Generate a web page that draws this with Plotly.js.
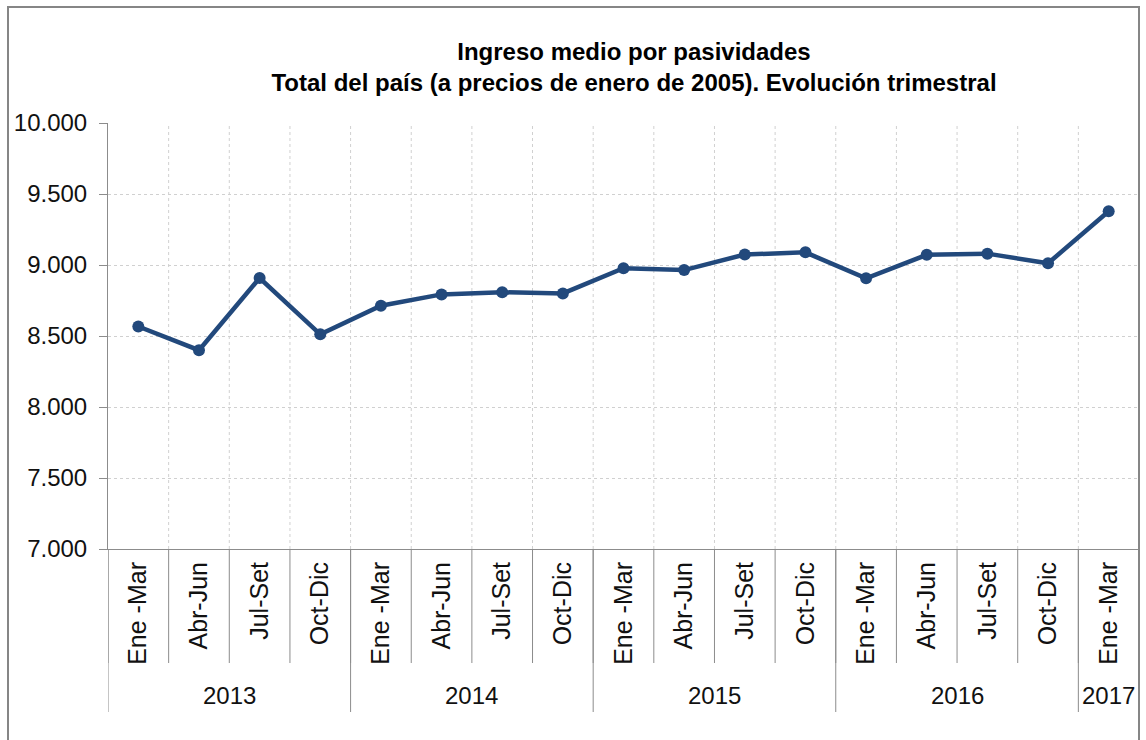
<!DOCTYPE html>
<html><head><meta charset="utf-8">
<script src="https://cdn.plot.ly/plotly-3.0.1.min.js"></script>
<style>body{margin:0;background:#fff}#chart{width:1146px;height:740px}</style>
</head><body><div id="chart"></div>
<script>
const quarters = ["Ene -Mar","Abr-Jun","Jul-Set","Oct-Dic","Ene -Mar","Abr-Jun","Jul-Set","Oct-Dic","Ene -Mar","Abr-Jun","Jul-Set","Oct-Dic","Ene -Mar","Abr-Jun","Jul-Set","Oct-Dic","Ene -Mar"];
const years = ["2013","2013","2013","2013","2014","2014","2014","2014","2015","2015","2015","2015","2016","2016","2016","2016","2017"];
const values = [8567, 8400, 8908, 8512, 8713, 8793, 8808, 8800, 8977, 8964, 9074, 9089, 8906, 9072, 9080, 9012, 9378];
const yTicks = [7000, 7500, 8000, 8500, 9000, 9500, 10000];

const W = 1146, H = 740;
const M = {l: 108, r: 7, t: 123, b: 191};
const PW = W - M.l - M.r, PH = H - M.t - M.b;
const FONT = "Liberation Sans, Arial, sans-serif";
const sepColor = "#8c8c8c";

const idx = quarters.map((_, i) => i);
const groups = [];
years.forEach((y, i) => {
  const g = groups[groups.length - 1];
  if (!g || g.year !== y) groups.push({year: y, start: i, end: i});
  else g.end = i;
});

const catDepth = -(663 - 549) / PH;
const yearDepth = -(712 - 549) / PH;
const shapes = [];
for (let i = 0; i < quarters.length - 1; i++) {
  shapes.push({type: "line", xref: "x", yref: "paper", x0: i + 0.5, x1: i + 0.5, y0: 0, y1: 1,
    line: {color: "#d0d0d0", width: 1, dash: "3px,3px"}, layer: "below"});
}
for (let i = 0; i <= quarters.length; i++) {
  shapes.push({type: "line", xref: "x", yref: "paper", x0: i - 0.5, x1: i - 0.5, y0: 0, y1: catDepth,
    line: {color: sepColor, width: 1}});
}
groups.forEach(g => {
  shapes.push({type: "line", xref: "x", yref: "paper", x0: g.start - 0.5, x1: g.start - 0.5, y0: 0, y1: yearDepth,
    line: {color: sepColor, width: 1}});
});
const last = groups[groups.length - 1];
shapes.push({type: "line", xref: "x", yref: "paper", x0: last.end + 0.5, x1: last.end + 0.5, y0: 0, y1: yearDepth,
  line: {color: sepColor, width: 1}});
// outer chart frame
shapes.push({type: "rect", xref: "paper", yref: "paper",
  x0: (8 - M.l) / PW, x1: 1, y0: -(M.b + 20) / PH, y1: 1 + (M.t - 7) / PH,
  line: {color: "#868686", width: 2}, fillcolor: "rgba(0,0,0,0)"});

const annotations = groups.map(g => ({
  x: (g.start + g.end) / 2, xref: "x", y: -(695 - 549) / PH, yref: "paper",
  text: g.year, showarrow: false, xanchor: "center", yanchor: "middle",
  font: {family: FONT, size: 24, color: "#111"}
}));

const trace = {
  x: idx, y: values, type: "scatter", mode: "lines+markers",
  line: {color: "#22497c", width: 4.5},
  marker: {color: "#22497c", size: 12},
  cliponaxis: false, hoverinfo: "y"
};

const layout = {
  width: W, height: H, margin: M,
  paper_bgcolor: "#fff", plot_bgcolor: "#fff",
  separators: ",.",
  showlegend: false,
  font: {family: FONT, color: "#111"},
  title: {
    text: "Ingreso medio por pasividades<br>Total del país (a precios de enero de 2005). Evolución trimestral",
    font: {family: FONT, size: 24, color: "#000", weight: "bold"},
    x: 634 / W, xanchor: "center", xref: "container",
    y: 1 - 60 / H, yanchor: "middle", yref: "container"
  },
  xaxis: {
    range: [-0.5, quarters.length - 0.5],
    tickvals: idx, ticktext: quarters, tickangle: -90,
    tickfont: {family: FONT, size: 25, color: "#111"},
    ticks: "", ticklabelstandoff: 2,
    showgrid: false, zeroline: false,
    showline: true, linecolor: sepColor, linewidth: 1, fixedrange: true
  },
  yaxis: {
    range: [7000, 10000], tickvals: yTicks, tickformat: ",d",
    tickfont: {family: FONT, size: 24, color: "#111"},
    ticks: "outside", ticklen: 8, tickcolor: sepColor, ticklabelstandoff: 7,
    showgrid: true, gridcolor: "#d0d0d0", griddash: "3px,3px", gridwidth: 1,
    zeroline: false, showline: true, linecolor: sepColor, linewidth: 1, fixedrange: true
  },
  shapes: shapes,
  annotations: annotations
};

Plotly.newPlot("chart", [trace], layout, {displayModeBar: false, staticPlot: true});
</script>
</body></html>
